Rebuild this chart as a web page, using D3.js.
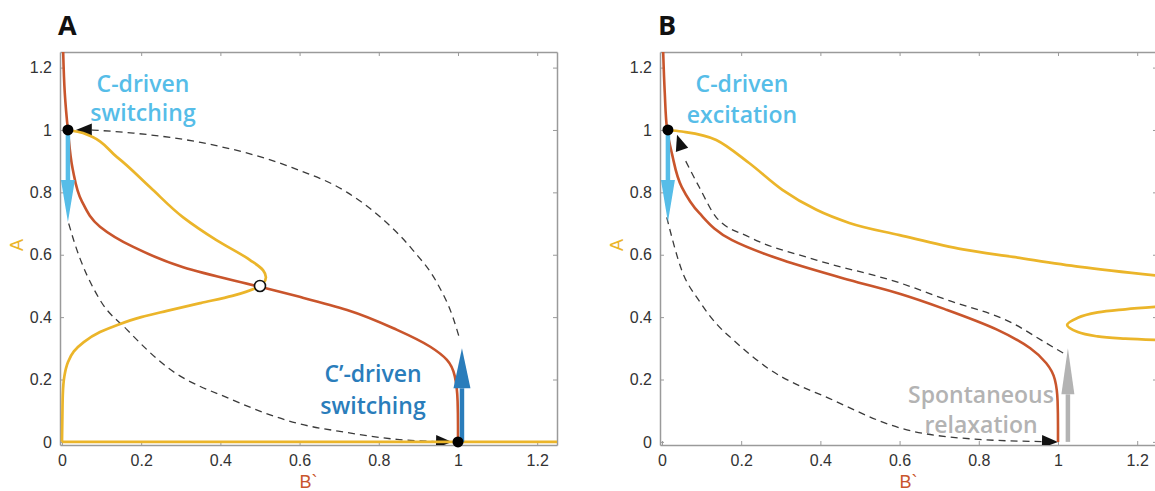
<!DOCTYPE html>
<html><head><meta charset="utf-8">
<script src="https://cdn.jsdelivr.net/npm/d3@7"></script>
<style>
html,body{margin:0;padding:0;background:#fff;}
svg{display:block;}
</style></head>
<body>
<svg id="chart" width="1155" height="491"></svg>
<script>
// ---------- data ----------
const tickValues = [0, 0.2, 0.4, 0.6, 0.8, 1, 1.2];
const tickLabels = ["0", "0.2", "0.4", "0.6", "0.8", "1", "1.2"];
const xLabel = "B`";
const yLabel = "A";

// Panel A
const redA = [[0.003,1.25],[0.007,1.12],[0.015,1.0],[0.027,0.875],[0.05,0.772],[0.096,0.69],[0.18,0.625],[0.306,0.56],[0.5,0.497],[0.6,0.465],[0.72,0.423],[0.846,0.359],[0.93,0.305],[0.972,0.263],[0.992,0.21],[0.999,0.13],[1.0,0.05],[1.0,0]];
const yellowA = [[0.015,1.0],[0.053,0.99],[0.139,0.913],[0.222,0.817],[0.306,0.72],[0.39,0.647],[0.475,0.583],[0.508,0.55],[0.515,0.528],[0.508,0.508],[0.5,0.5],[0.43,0.468],[0.35,0.445],[0.265,0.42],[0.2,0.4],[0.14,0.375],[0.096,0.352],[0.055,0.32],[0.03,0.29],[0.015,0.255],[0.006,0.21],[0.002,0.15],[0.001,0.08],[0,0]];
const yellowAzero = [[0,0],[1.25,0]];
const dashA1 = [[1.005,0.327],[0.987,0.40],[0.947,0.51],[0.886,0.615],[0.80,0.725],[0.72,0.80],[0.58,0.88],[0.35,0.96],[0.18,0.99],[0.075,1.0]];
const dashA1Tip = [0.035,1.0];
const dashA2 = [[0.017,0.70],[0.03,0.645],[0.096,0.455],[0.164,0.36],[0.265,0.24],[0.43,0.135],[0.593,0.06],[0.72,0.03],[0.846,0.008],[0.942,0.001]];
const dashA2Tip = [0.985,0];
const dotsA = [[0.015,1.0],[1.0,0]];
const openDotsA = [[0.5,0.5]];
const arrowCA = [[0.015,1.0],[0.015,0.705]];
const arrowCpA = [[1.01,0],[1.01,0.30]];

// Panel B
const redB = [[0.003,1.25],[0.007,1.12],[0.013,1.0],[0.025,0.925],[0.05,0.817],[0.094,0.734],[0.177,0.647],[0.304,0.583],[0.473,0.519],[0.6,0.475],[0.72,0.423],[0.846,0.36],[0.93,0.3],[0.97,0.253],[0.992,0.2],[0.999,0.13],[1.0,0.05],[1.0,0]];
const yellowB = [[0.015,1.0],[0.05,0.995],[0.137,0.968],[0.22,0.894],[0.304,0.808],[0.39,0.744],[0.473,0.702],[0.6,0.663],[0.76,0.617],[0.886,0.593],[1.056,0.561],[1.25,0.533]];
const yellowBloop = [[1.25,0.433],[1.17,0.425],[1.10,0.415],[1.05,0.398],[1.023,0.375],[1.05,0.352],[1.10,0.338],[1.17,0.331],[1.25,0.327]];
const dashB1 = [[1.013,0.285],[0.97,0.317],[0.886,0.38],[0.72,0.455],[0.6,0.51],[0.39,0.583],[0.22,0.657],[0.137,0.72],[0.094,0.817],[0.06,0.9]];
const dashB1Tip = [0.038,0.985];
const dashB2 = [[0.012,0.72],[0.05,0.55],[0.094,0.452],[0.14,0.375],[0.18,0.327],[0.263,0.24],[0.43,0.135],[0.6,0.045],[0.8,0.008],[0.96,0.001]];
const dashB2Tip = [1.0,0];
const dotsB = [[0.015,1.0]];
const arrowCB = [[0.015,1.0],[0.015,0.705]];
const arrowSB = [[1.025,0],[1.025,0.30]];

// ---------- style ----------
const C_RED = "#c9552c", C_YEL = "#ebb52a", C_LBLUE = "#56bde8", C_DBLUE = "#2a7dbb", C_GRAY = "#b3b3b3";
const C_AXIS = "#9a9a9a", C_TEXT = "#333";
const FONT = "'Open Sans', 'Noto Sans', sans-serif";
const AXFONT = "'Liberation Sans', Arial, sans-serif";

const svg = d3.select("#chart");
const defs = svg.append("defs");

function panel(id, left, cfg) {
  const W = 497, top = 52, bottom = 445;
  const x = d3.scaleLinear().domain([-0.005, 1.25]).range([left, left + W]);
  const y = d3.scaleLinear().domain([-0.01, 1.25]).range([bottom, top]);
  const g = svg.append("g");

  defs.append("clipPath").attr("id", "clip" + id)
    .append("rect").attr("x", left).attr("y", top).attr("width", W).attr("height", bottom - top);

  // axes
  const fmt = (d, i) => tickLabels[i];
  const ax = [
    [d3.axisBottom(x).tickValues(tickValues).tickFormat(fmt).tickSizeInner(-4).tickSizeOuter(0).tickPadding(10), `translate(0,${bottom})`],
    [d3.axisTop(x).tickValues(tickValues).tickFormat("").tickSizeInner(-4).tickSizeOuter(0), `translate(0,${top})`],
    [d3.axisLeft(y).tickValues(tickValues).tickFormat(fmt).tickSizeInner(-4).tickSizeOuter(0).tickPadding(8), `translate(${left},0)`],
    [d3.axisRight(y).tickValues(tickValues).tickFormat("").tickSizeInner(-4).tickSizeOuter(0), `translate(${left + W},0)`]
  ];
  ax.forEach(([a, t]) => {
    const ag = g.append("g").attr("transform", t).call(a);
    ag.selectAll("path.domain").attr("stroke", C_AXIS).attr("stroke-width", 1.5);
    ag.selectAll(".tick line").attr("stroke", C_AXIS).attr("stroke-width", 1);
    ag.selectAll("text").attr("fill", C_TEXT).style("font-family", AXFONT).style("font-size", "16px");
  });

  // axis labels
  g.append("text").attr("x", left + W / 2).attr("y", 488).attr("text-anchor", "middle")
    .attr("fill", C_RED).style("font-family", AXFONT).style("font-size", "18px").text(xLabel);
  g.append("text").attr("transform", `translate(${left - 37},245) rotate(-90)`).attr("text-anchor", "middle")
    .attr("fill", C_YEL).style("font-family", AXFONT).style("font-size", "18px").text(yLabel);

  // panel letter
  g.append("text").attr("x", left - 2).attr("y", 35).attr("fill", "#111")
    .style("font-family", FONT).style("font-weight", 700).style("font-size", "27px").text(cfg.letter);

  const plot = g.append("g").attr("clip-path", `url(#clip${id})`);
  const mk = c => d3.line().x(d => x(d[0])).y(d => y(d[1])).curve(c);
  const lineX = mk(d3.curveMonotoneX), lineY = mk(d3.curveMonotoneY),
        lineC = mk(d3.curveCatmullRom.alpha(0.5)), straight = mk(d3.curveLinear);
  const byX = pts => pts.slice().sort((a, b) => a[0] - b[0]);
  const byY = pts => pts.slice().sort((a, b) => b[1] - a[1]);

  // dashed trajectories
  cfg.dashed.forEach(([pts, tip]) => {
    plot.append("path").attr("d", lineX(byX(pts))).attr("fill", "none").attr("stroke", "#3a3a3a")
      .attr("stroke-width", 1.3).attr("stroke-dasharray", "7,5");
    const last = pts[pts.length - 1];
    const tx = x(tip[0]), ty = y(tip[1]);
    const ang = Math.atan2(ty - y(last[1]), tx - x(last[0]));
    const L = 16, Hw = 6.5;
    const bx = tx - L * Math.cos(ang), by = ty - L * Math.sin(ang);
    const px = -Math.sin(ang) * Hw, py = Math.cos(ang) * Hw;
    plot.append("path").attr("d", `M${tx},${ty}L${bx + px},${by + py}L${bx - px},${by - py}Z`).attr("fill", "#111");
  });

  // nullclines
  cfg.yellow.forEach(([pts, kind]) => {
    const d = kind === "line" ? straight(pts) : kind === "y" ? lineY(byY(pts)) : kind === "x" ? lineX(byX(pts)) : lineC(pts);
    plot.append("path").attr("d", d).attr("fill", "none").attr("stroke", C_YEL).attr("stroke-width", 2.7);
  });
  plot.append("path").attr("d", lineY(byY(cfg.red))).attr("fill", "none").attr("stroke", C_RED).attr("stroke-width", 2.6);

  // block arrows
  cfg.arrows.forEach(([pts, col, hl, hw]) => {
    const x0 = x(pts[0][0]), y0 = y(pts[0][1]), x1 = x(pts[1][0]), y1 = y(pts[1][1]);
    const ang = Math.atan2(y1 - y0, x1 - x0);
    const bx = x1 - hl * Math.cos(ang), by = y1 - hl * Math.sin(ang);
    const px = -Math.sin(ang) * hw / 2, py = Math.cos(ang) * hw / 2;
    plot.append("line").attr("x1", x0).attr("y1", y0).attr("x2", bx).attr("y2", by)
      .attr("stroke", col).attr("stroke-width", 4.5);
    plot.append("path").attr("d", `M${x1},${y1}L${bx + px},${by + py}L${bx - px},${by - py}Z`).attr("fill", col);
  });

  // equilibrium points
  cfg.dots.forEach(d => {
    g.append("circle").attr("cx", x(d[0])).attr("cy", y(d[1])).attr("r", 5.5).attr("fill", "#000");
  });
  cfg.openDots.forEach(d => {
    g.append("circle").attr("cx", x(d[0])).attr("cy", y(d[1])).attr("r", 5.5).attr("fill", "#fff")
      .attr("stroke", "#111").attr("stroke-width", 1.6);
  });

  // annotations
  cfg.notes.forEach(n => {
    const t = g.append("text").attr("text-anchor", "middle").attr("fill", n.color)
      .style("font-family", FONT).style("font-weight", 600).style("font-size", "23px");
    n.lines.forEach((s, i) => t.append("tspan").attr("x", n.x).attr("y", n.y + i * n.dy).text(s));
  });
}

panel("A", 60, {
  letter: "A",
  red: redA,
  yellow: [[yellowAzero, "line"], [yellowA, "y"]],
  dashed: [[dashA1, dashA1Tip], [dashA2, dashA2Tip]],
  arrows: [[arrowCA, C_LBLUE, 42, 14], [arrowCpA, C_DBLUE, 40, 17]],
  dots: dotsA,
  openDots: openDotsA,
  notes: [
    {lines: ["C-driven", "switching"], x: 143, y: 92, dy: 29, color: C_LBLUE},
    {lines: ["C\u2019-driven", "switching"], x: 373, y: 382, dy: 32, color: C_DBLUE}
  ]
});

panel("B", 660, {
  letter: "B",
  red: redB,
  yellow: [[yellowB, "x"], [yellowBloop, "c"]],
  dashed: [[dashB1, dashB1Tip], [dashB2, dashB2Tip]],
  arrows: [[arrowCB, C_LBLUE, 42, 14], [arrowSB, C_GRAY, 46, 13]],
  dots: dotsB,
  openDots: [],
  notes: [
    {lines: ["C-driven", "excitation"], x: 742, y: 92, dy: 31, color: C_LBLUE},
    {lines: ["Spontaneous", "relaxation"], x: 981, y: 403, dy: 30, color: C_GRAY}
  ]
});
</script>
</body></html>
